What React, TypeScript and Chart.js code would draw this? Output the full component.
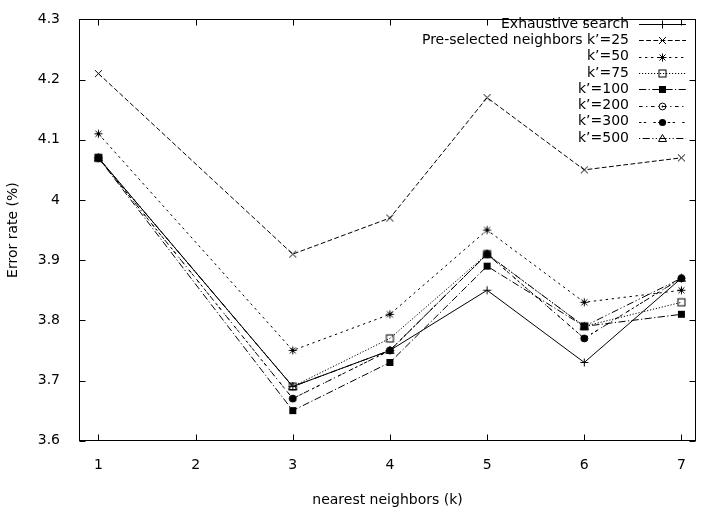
import React, { useEffect, useRef } from 'react';
import { Chart, registerables } from 'chart.js';

Chart.register(...registerables);

// ---- data ----
const kValues = [1, 3, 4, 5, 6, 7];
const xTicks = [1, 2, 3, 4, 5, 6, 7];
const yTicks = [3.6, 3.7, 3.8, 3.9, 4, 4.1, 4.2, 4.3];

const seriesNames = [
  'Exhaustive search',
  'Pre-selected neighbors k\u2019=25',
  'k\u2019=50',
  'k\u2019=75',
  'k\u2019=100',
  'k\u2019=200',
  'k\u2019=300',
  'k\u2019=500',
];
const exhaustive = [4.07, 3.69, 3.75, 3.85, 3.73, 3.87];
const k25 = [4.21, 3.91, 3.97, 4.17, 4.05, 4.07];
const k50 = [4.11, 3.75, 3.81, 3.95, 3.83, 3.85];
const k75 = [4.07, 3.69, 3.77, 3.91, 3.79, 3.83];
const k100 = [4.07, 3.65, 3.73, 3.89, 3.79, 3.81];
const k200 = [4.07, 3.67, 3.75, 3.91, 3.77, 3.87];
const k300 = [4.07, 3.67, 3.75, 3.91, 3.77, 3.87];
const k500 = [4.07, 3.69, 3.75, 3.91, 3.79, 3.87];
const seriesValues = [exhaustive, k25, k50, k75, k100, k200, k300, k500];

const markerKinds = ['plus', 'cross', 'star', 'square', 'fsquare', 'circle', 'fcircle', 'triangle'];
const dashPatterns: number[][] = [
  [],
  [4.8, 2.4],
  [2.4, 3.6],
  [1.2, 1.8],
  [7.2, 2.4, 1.2, 2.4],
  [3.6, 3.6, 1.2, 3.6],
  [2.4, 2.4, 2.4, 7.2],
  [1.2, 2.4, 7.2, 2.4, 1.2, 2.4],
];

const FONT = '"DejaVu Sans", "Liberation Sans", Arial, sans-serif';

function drawMarker(ctx: CanvasRenderingContext2D, kind: string, cx: number, cy: number) {
  ctx.save();
  ctx.strokeStyle = '#000';
  ctx.fillStyle = '#000';
  ctx.lineWidth = 1;
  ctx.setLineDash([]);
  ctx.beginPath();
  switch (kind) {
    case 'plus':
      ctx.moveTo(cx - 4, cy); ctx.lineTo(cx + 4, cy);
      ctx.moveTo(cx, cy - 4); ctx.lineTo(cx, cy + 4);
      ctx.stroke();
      break;
    case 'cross':
      ctx.moveTo(cx - 3.5, cy - 3.5); ctx.lineTo(cx + 3.5, cy + 3.5);
      ctx.moveTo(cx - 3.5, cy + 3.5); ctx.lineTo(cx + 3.5, cy - 3.5);
      ctx.stroke();
      break;
    case 'star':
      ctx.moveTo(cx - 4, cy); ctx.lineTo(cx + 4, cy);
      ctx.moveTo(cx, cy - 4); ctx.lineTo(cx, cy + 4);
      ctx.moveTo(cx - 3, cy - 3); ctx.lineTo(cx + 3, cy + 3);
      ctx.moveTo(cx - 3, cy + 3); ctx.lineTo(cx + 3, cy - 3);
      ctx.stroke();
      break;
    case 'square':
      ctx.strokeRect(cx - 3.5, cy - 3.5, 7, 7);
      break;
    case 'fsquare':
      ctx.fillRect(cx - 3.5, cy - 3.5, 7, 7);
      break;
    case 'circle':
      ctx.arc(cx, cy, 3.4, 0, Math.PI * 2);
      ctx.stroke();
      ctx.beginPath();
      ctx.arc(cx, cy, 0.9, 0, Math.PI * 2);
      ctx.fill();
      break;
    case 'fcircle':
      ctx.arc(cx, cy, 3.6, 0, Math.PI * 2);
      ctx.fill();
      break;
    case 'triangle':
      ctx.moveTo(cx, cy - 4);
      ctx.lineTo(cx + 4, cy + 3);
      ctx.lineTo(cx - 4, cy + 3);
      ctx.closePath();
      ctx.stroke();
      break;
  }
  ctx.restore();
}

function markerImage(kind: string): HTMLCanvasElement {
  const c = document.createElement('canvas');
  c.width = 15;
  c.height = 15;
  const ctx = c.getContext('2d')!;
  drawMarker(ctx, kind, 7.5, 7.5);
  return c;
}

const framePlugin = {
  id: 'gnuplotFrame',
  beforeDatasetsDraw(chart: any) {
    const { ctx, chartArea, scales } = chart;
    const L = Math.round(chartArea.left) + 0.5;
    const T = Math.round(chartArea.top) + 0.5;
    const B = Math.floor(chartArea.bottom) + 0.5;
    const R = Math.min(Math.round(chartArea.right), chart.width) - 0.5;
    ctx.save();
    ctx.strokeStyle = '#000';
    ctx.lineWidth = 1;
    ctx.setLineDash([]);
    ctx.strokeRect(L, T, R - L, B - T);
    ctx.beginPath();
    for (const v of xTicks) {
      const px = Math.round(scales.x.getPixelForValue(v)) + 0.5;
      ctx.moveTo(px, B); ctx.lineTo(px, B - 6);
      ctx.moveTo(px, T); ctx.lineTo(px, T + 6);
    }
    for (const v of yTicks) {
      const py = Math.round(scales.y.getPixelForValue(v)) + 0.5;
      ctx.moveTo(L, py); ctx.lineTo(L + 6, py);
      ctx.moveTo(R, py); ctx.lineTo(R - 6, py);
    }
    ctx.stroke();
    ctx.restore();
  },
};

const legendPlugin = {
  id: 'gnuplotLegend',
  afterDatasetsDraw(chart: any) {
    const { ctx } = chart;
    const textRight = 629;
    const lineStart = 639;
    const lineEnd = 686;
    const top = 24;
    const rowH = 16.3;
    ctx.save();
    chart.data.datasets.forEach((ds: any, i: number) => {
      const y = top + i * rowH;
      ctx.font = '14px ' + FONT;
      ctx.fillStyle = '#000';
      ctx.textAlign = 'right';
      ctx.textBaseline = 'middle';
      ctx.fillText(ds.label, textRight, y);
      ctx.beginPath();
      ctx.strokeStyle = '#000';
      ctx.lineWidth = 1;
      ctx.setLineDash(ds.borderDash || []);
      const yy = Math.round(y) + 0.5;
      ctx.moveTo(lineStart, yy);
      ctx.lineTo(lineEnd, yy);
      ctx.stroke();
      ctx.setLineDash([]);
      drawMarker(ctx, ds.markerKind, (lineStart + lineEnd) / 2, yy);
    });
    ctx.restore();
  },
};

export default function App() {
  const canvasRef = useRef<HTMLCanvasElement | null>(null);

  useEffect(() => {
    document.body.style.margin = '0';
    const canvas = canvasRef.current;
    if (!canvas) return;

    const datasets = seriesNames.map((name, i) => ({
      label: name,
      data: kValues.map((k, j) => ({ x: k, y: seriesValues[i][j] })),
      borderColor: '#000',
      backgroundColor: '#000',
      borderWidth: 1,
      borderDash: dashPatterns[i],
      pointStyle: markerImage(markerKinds[i]),
      pointRadius: 4,
      markerKind: markerKinds[i],
      tension: 0,
      fill: false,
    }));

    const chart = new Chart(canvas, {
      type: 'line',
      data: { datasets } as any,
      plugins: [framePlugin, legendPlugin],
      options: {
        animation: false,
        responsive: true,
        maintainAspectRatio: false,
        layout: { padding: { left: 0, right: 0, top: 10, bottom: 0 } },
        plugins: {
          legend: { display: false },
          tooltip: { enabled: false },
        },
        scales: {
          x: {
            type: 'linear',
            min: 0.8,
            max: 7.15,
            afterBuildTicks: (s: any) => {
              s.ticks = xTicks.map((v) => ({ value: v }));
            },
            afterFit: (s: any) => {
              s.height = 71.3;
            },
            grid: { display: false },
            border: { display: false },
            ticks: {
              padding: 8,
              color: '#000',
              font: { family: FONT, size: 14 },
              maxRotation: 0,
              autoSkip: false,
              callback: (v: any) => String(v),
            },
            title: {
              display: true,
              text: 'nearest neighbors (k)',
              color: '#000',
              font: { family: FONT, size: 14 },
              padding: { top: 0, bottom: 3.6 },
            },
          },
          y: {
            type: 'linear',
            min: 3.6,
            max: 4.3,
            afterBuildTicks: (s: any) => {
              s.ticks = yTicks.map((v) => ({ value: v }));
            },
            afterFit: (s: any) => {
              s.width = 79;
            },
            grid: { display: false },
            border: { display: false },
            ticks: {
              padding: 11,
              color: '#000',
              font: { family: FONT, size: 14 },
              autoSkip: false,
              callback: (v: any) => String(Math.round(Number(v) * 10) / 10),
            },
            title: {
              display: true,
              text: 'Error rate (%)',
              color: '#000',
              font: { family: FONT, size: 14 },
              padding: { top: 4.6, bottom: 0 },
            },
          },
        },
      } as any,
    });

    return () => {
      chart.destroy();
    };
  }, []);

  return (
    <div style={{ position: 'fixed', left: 0, top: 0, width: 701, height: 512 }}>
      <canvas ref={canvasRef} />
    </div>
  );
}
